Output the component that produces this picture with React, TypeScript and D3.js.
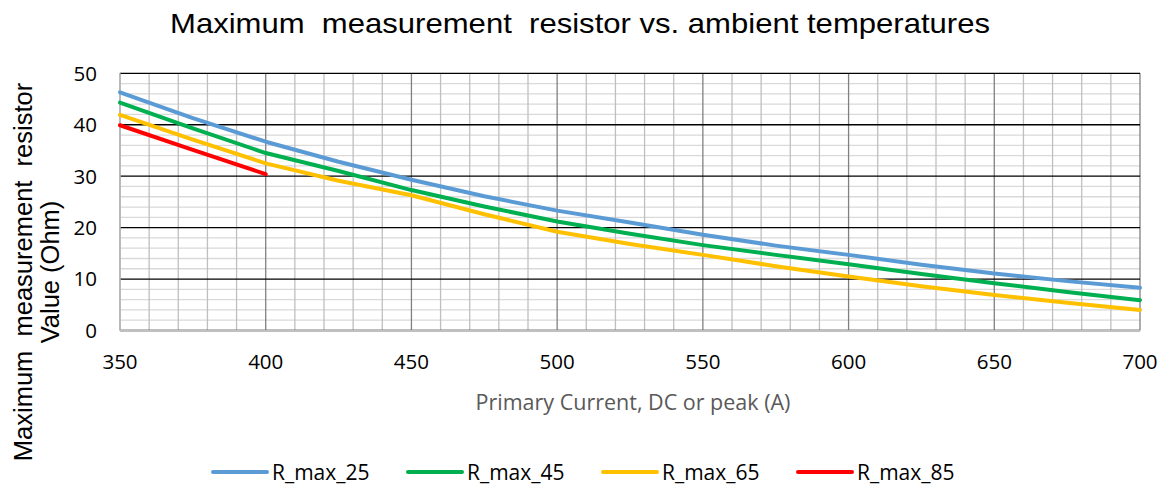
import React from "react";
import * as d3 from "d3";

const currents = [350, 375, 400, 425, 450, 475, 500, 525, 550, 575, 600, 625, 650, 675, 700];
const rMax25 = [46.3, 41.3, 36.7, 32.8, 29.3, 26.1, 23.3, 21.0, 18.6, 16.5, 14.7, 12.8, 11.1, 9.6, 8.3];
const rMax45 = [44.3, 39.3, 34.5, 31.0, 27.3, 24.1, 21.2, 18.8, 16.6, 14.7, 12.9, 11.0, 9.2, 7.5, 5.9];
const rMax65 = [41.9, 37.1, 32.5, 29.1, 26.3, 22.6, 19.2, 16.8, 14.7, 12.5, 10.5, 8.6, 6.9, 5.4, 4.0];
const currents85 = [350, 375, 400];
const rMax85 = [39.9, 35.1, 30.4];

const xTicks = [350, 400, 450, 500, 550, 600, 650, 700];
const yTicks = [0, 10, 20, 30, 40, 50];
const seriesNames = ["R_max_25", "R_max_45", "R_max_65", "R_max_85"];
const seriesColors = ["#5b9bd5", "#00b050", "#ffc000", "#ff0000"];

const W = 1168;
const H = 488;
const L = 120, R = 1140, T = 73.3, B = 330.5;

export default function App() {
  const x = d3.scaleLinear().domain([350, 700]).range([L, R]);
  const y = d3.scaleLinear().domain([0, 50]).range([B, T]);

  const minorX = d3.range(350, 701, 10).filter((v) => v % 50 !== 0);
  const minorY = d3.range(0, 51, 2).filter((v) => v % 10 !== 0);

  const line = d3
    .line<[number, number]>()
    .x((d) => x(d[0]))
    .y((d) => y(d[1]));

  const series: [number, number][][] = [
    currents.map((c, i) => [c, rMax25[i]]),
    currents.map((c, i) => [c, rMax45[i]]),
    currents.map((c, i) => [c, rMax65[i]]),
    currents85.map((c, i) => [c, rMax85[i]]),
  ];

  const tickFont = "'Open Sans', sans-serif";
  const arial = "'Liberation Sans', Arial, sans-serif";

  return (
    <svg width={W} height={H} style={{ position: "absolute", left: 0, top: 0, background: "#fff" }}>
      <rect x={0} y={0} width={W} height={H} fill="#fff" />
      <text
        x={580}
        y={33}
        textAnchor="middle"
        fontFamily={arial}
        fontSize={28}
        fill="#000"
        textLength={820}
        lengthAdjust="spacingAndGlyphs"
        style={{ whiteSpace: "pre" }}
      >
        {"Maximum  measurement  resistor vs. ambient temperatures"}
      </text>

      {/* minor horizontal grid */}
      {minorY.map((v) => (
        <line key={"my" + v} x1={L} x2={R} y1={y(v)} y2={y(v)} stroke="#d9d9d9" strokeWidth={1.3} />
      ))}
      {/* minor vertical grid */}
      {minorX.map((v) => (
        <line key={"mx" + v} x1={x(v)} x2={x(v)} y1={T} y2={B} stroke="#bfbfbf" strokeWidth={1.3} />
      ))}
      {/* major vertical grid */}
      {xTicks.map((v) => (
        <line key={"Mx" + v} x1={x(v)} x2={x(v)} y1={T} y2={B} stroke="#808080" strokeWidth={1.3} />
      ))}
      {/* major horizontal grid */}
      {yTicks.map((v) => (
        <line key={"My" + v} x1={L} x2={R} y1={y(v)} y2={y(v)} stroke="#000" strokeWidth={1.3} />
      ))}
      {/* axis lines */}
      <line x1={L} x2={L} y1={T} y2={B} stroke="#bfbfbf" strokeWidth={1.5} />
      <line x1={L} x2={R} y1={B} y2={B} stroke="#bfbfbf" strokeWidth={1.5} />

      {/* series */}
      {series.map((s, i) => (
        <path
          key={"s" + i}
          d={line(s) || ""}
          fill="none"
          stroke={seriesColors[i]}
          strokeWidth={4}
          strokeLinejoin="round"
          strokeLinecap="round"
        />
      ))}

      {/* y tick labels */}
      {yTicks.map((v) => (
        <text
          key={"yt" + v}
          x={97}
          y={y(v)}
          dy="0.36em"
          textAnchor="end"
          fontFamily={tickFont}
          fontSize={20.5}
          fill="#000"
        >
          {v}
        </text>
      ))}
      {/* x tick labels */}
      {xTicks.map((v) => (
        <text
          key={"xt" + v}
          x={x(v)}
          y={369}
          textAnchor="middle"
          fontFamily={tickFont}
          fontSize={20.5}
          fill="#000"
        >
          {v}
        </text>
      ))}

      {/* x axis title */}
      <text
        x={633}
        y={410}
        textAnchor="middle"
        fontFamily={tickFont}
        fontSize={21.5}
        fill="#595959"
      >
        Primary Current, DC or peak (A)
      </text>

      {/* y axis title */}
      <g transform="translate(32,272) rotate(-90)">
        <text
          x={0}
          y={0}
          textAnchor="middle"
          fontFamily={arial}
          fontSize={25.5}
          fill="#000"
          style={{ whiteSpace: "pre" }}
        >
          {"Maximum  measurement  resistor"}
        </text>
        <text
          x={0}
          y={27}
          textAnchor="middle"
          fontFamily={arial}
          fontSize={25.5}
          fill="#000"
        >
          Value (Ohm)
        </text>
      </g>

      {/* legend */}
      {seriesNames.map((n, i) => {
        const lx = 213 + i * 195;
        return (
          <g key={"lg" + i}>
            <line x1={lx} x2={lx + 54} y1={472} y2={472} stroke={seriesColors[i]} strokeWidth={4} strokeLinecap="round" />
            <text x={lx + 59} y={472} dy="0.36em" fontFamily={tickFont} fontSize={21} fill="#000">
              {n}
            </text>
          </g>
        );
      })}
    </svg>
  );
}
